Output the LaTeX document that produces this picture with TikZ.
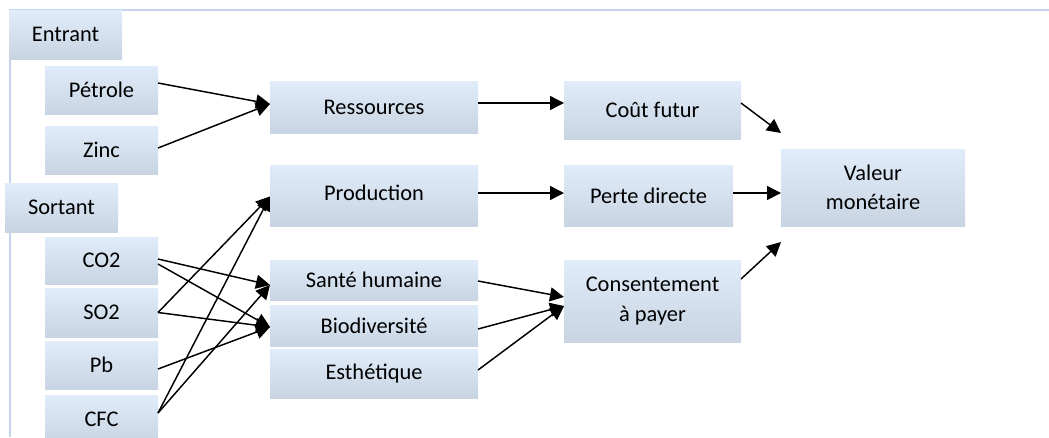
\documentclass[tikz,border=0pt]{standalone}
\usepackage{fontspec}
\setmainfont{Carlito}
\usetikzlibrary{arrows.meta,calc}
\newlength{\du}
\setlength{\du}{0.75pt}

\begin{document}
\begin{tikzpicture}[
  box/.style={rectangle,inner sep=0pt,outer sep=0pt,draw=none,align=center,
    top color=diaboxtop,bottom color=diaboxbottom,
    font=\fontsize{16.8}{22}\selectfont},
  flow/.style={draw=black,line width=1.1pt,-{Triangle[length=10.5pt,width=10.5pt]}},
  hier/.style={draw=diahiercolor,line width=1.6pt}]
\pgftransformxscale{1.000000}
\pgftransformyscale{-1.000000}
\definecolor{diaboxtop}{rgb}{0.878431, 0.925490, 0.980392}
\definecolor{diaboxbottom}{rgb}{0.784314, 0.831373, 0.886275}
\definecolor{diahiercolor}{rgb}{0.760784, 0.835294, 0.929412}
\useasboundingbox (0.000000\du,0.000000\du) rectangle (1049.000000\du,437.000000\du);
\clip (0.000000\du,0.000000\du) rectangle (1049.000000\du,437.000000\du);
\coordinate (corner) at (10.000000\du,10.000000\du);
\coordinate (topend) at (1049.000000\du,10.000000\du);
\coordinate (bottomend) at (10.000000\du,437.000000\du);
\draw[hier] (topend)--(corner)--(bottomend);
% entrant
\node[box,minimum width=113\du,minimum height=49\du] (entrant) at (65.500000\du,34.500000\du){Entrant};
\node[box,minimum width=113\du,minimum height=48\du] (petrole) at (101.500000\du,90.000000\du){Pétrole};
\node[box,minimum width=113\du,minimum height=48\du] (zinc) at (101.500000\du,150.000000\du){Zinc};
% sortant
\node[box,minimum width=113\du,minimum height=49\du] (sortant) at (61.500000\du,207.500000\du){Sortant};
\node[box,minimum width=113\du,minimum height=47\du] (co2) at (101.500000\du,260.500000\du){CO2};
\node[box,minimum width=113\du,minimum height=49\du] (so2) at (101.500000\du,312.500000\du){SO2};
\node[box,minimum width=113\du,minimum height=48\du] (pb) at (101.500000\du,365.000000\du){Pb};
\node[box,minimum width=113\du,minimum height=48\du] (cfc) at (101.500000\du,419.000000\du){CFC};
% impacts
\node[box,minimum width=208\du,minimum height=52\du] (ressources) at (374.000000\du,107.000000\du){Ressources};
\node[box,minimum width=208\du,minimum height=61\du] (production) at (374.000000\du,195.500000\du){\raisebox{5\du}{Production}};
\node[box,minimum width=208\du,minimum height=40\du] (sante) at (374.000000\du,280.000000\du){Santé humaine};
\node[box,minimum width=208\du,minimum height=41\du] (biodiv) at (374.000000\du,325.500000\du){Biodiversité};
\node[box,minimum width=208\du,minimum height=49\du] (esthetique) at (374.000000\du,373.500000\du){Esthétique};
% evaluation
\node[box,minimum width=177\du,minimum height=58\du] (cout) at (652.500000\du,110.000000\du){Coût futur};
\node[box,minimum width=169\du,minimum height=61\du] (perte) at (648.500000\du,195.500000\du){Perte directe};
\node[box,minimum width=177\du,minimum height=82\du] (consent) at (652.500000\du,301.000000\du){Consentement\\à payer};
\node[box,minimum width=184\du,minimum height=77\du] (valeur) at (873.000000\du,187.500000\du){Valeur\\monétaire};
% inventory to impacts
\draw[flow] ($(petrole.east)+(0,-7\du)$)--($(ressources.west)+(0,-3\du)$);
\draw[flow] ($(zinc.east)+(0,-2\du)$)--($(ressources.west)+(0,-3\du)$);
\draw[flow] ($(co2.east)+(0,-1.5\du)$)--($(sante.west)+(0,5\du)$);
\draw[flow] ($(co2.east)+(0,3.5\du)$)--($(biodiv.west)+(0,1.5\du)$);
\draw[flow] (so2.east)--($(production.west)+(0,1\du)$);
\draw[flow] (so2.east)--($(biodiv.west)+(0,1.5\du)$);
\draw[flow] ($(pb.east)+(0,4\du)$)--($(biodiv.west)+(0,1.5\du)$);
\draw[flow] ($(cfc.east)+(0,-6\du)$)--($(production.west)+(0,1\du)$);
\draw[flow] ($(cfc.east)+(0,-6\du)$)--($(sante.west)+(0,5\du)$);
% impacts to evaluation
\draw[flow] ($(ressources.east)+(0,-4\du)$)--($(cout.west)+(0,-7\du)$);
\draw[flow] ($(production.east)+(0,-2.5\du)$)--($(perte.west)+(0,-2.5\du)$);
\draw[flow] ($(sante.east)+(0,1\du)$)--($(consent.west)+(0,-4\du)$);
\draw[flow] ($(biodiv.east)+(0,3.5\du)$)--($(consent.west)+(0,5\du)$);
\draw[flow] ($(esthetique.east)+(0,-3.5\du)$)--($(consent.west)+(0,5\du)$);
% evaluation to value
\draw[flow] ($(cout.east)+(0,-7\du)$)--($(valeur.north west)+(0,-16\du)$);
\draw[flow] ($(perte.east)+(0,-2.5\du)$)--($(valeur.west)+(0,5.5\du)$);
\draw[flow] ($(consent.east)+(0,-22\du)$)--($(valeur.south west)+(0,16\du)$);
\end{tikzpicture}
\end{document}
